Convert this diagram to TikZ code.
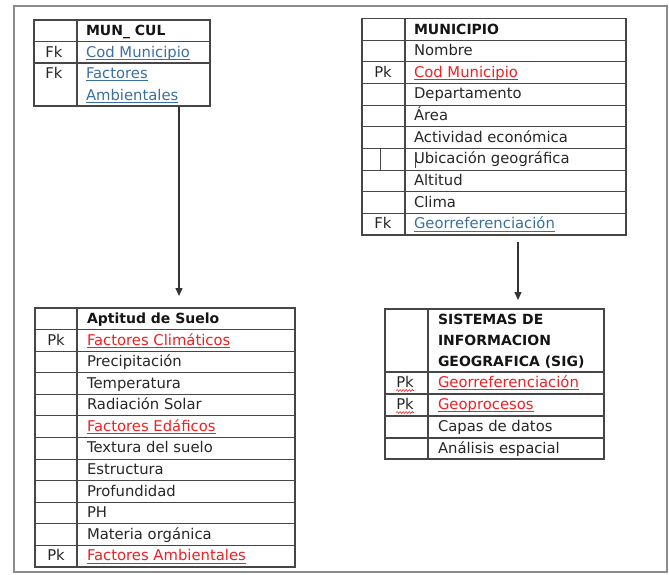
\documentclass[tikz,border=0pt]{standalone}
\usepackage{fontspec}
\setmainfont{DejaVu Sans}
\usetikzlibrary{arrows.meta,decorations.pathmorphing}
\definecolor{txt}{RGB}{38,38,38}
\definecolor{lnc}{RGB}{70,70,70}
\definecolor{frm}{RGB}{140,140,140}
\definecolor{redt}{RGB}{238,32,36}
\definecolor{bluet}{RGB}{58,112,160}
\begin{document}
\begin{tikzpicture}[x=1pt,y=-1pt,
  tblbox/.style={draw=lnc, line width=1.1pt, inner sep=0pt, outer sep=0pt, anchor=north west},
  gridln/.style={draw=lnc, line width=1.1pt},
  cell/.style={anchor=base west, inner sep=0pt, outer sep=0pt, text=txt, font=\fontsize{14.8}{18}\selectfont},
  hdr/.style={cell, text=black!92, font=\fontsize{14}{18}\selectfont\bfseries},
  keyc/.style={anchor=base, inner sep=0pt, outer sep=0pt, text=txt, font=\fontsize{14.8}{18}\selectfont},
  redc/.style={cell, text=redt},
  bluec/.style={cell, text=bluet},
  ulr/.style={draw=redt, line width=0.9pt},
  ulb/.style={draw=bluet, line width=0.9pt},
  squig/.style={draw=redt, line width=0.6pt, decorate, decoration={snake, amplitude=0.9pt, segment length=3pt}},
  arr/.style={-{Triangle[width=7pt,length=8pt]}, line width=1.2pt, draw=black!80}]
\useasboundingbox (0,0) rectangle (669,574);
% outer frame
\draw[frm, line width=1.6pt] (14,6) rectangle (667,572);

% ---------------- MUN_CUL ----------------
\node[tblbox, minimum width=176pt, minimum height=86pt] (mun) at (34,20) {};
\draw[gridln] (77,20) -- (77,106);
\draw[gridln] (34,41.5) -- (210,41.5);
\draw[gridln] (34,63) -- (210,63);
\node[hdr] (munh) at (86,35.5) {MUN\_ CUL};
\node[keyc] (munk1) at (54,57) {Fk};
\node[bluec] (mun1) at (86,57) {Cod Municipio};
\node[keyc] (munk2) at (54,78.5) {Fk};
\node[bluec] (mun2) at (86,78.5) {Factores};
\node[bluec] (mun3) at (86,100) {Ambientales};
\foreach \n in {mun1,mun2,mun3}
  \draw[ulb] ([yshift=-2.3pt]\n.base west) -- ([yshift=-2.3pt]\n.base east);

% ---------------- MUNICIPIO ----------------
\node[tblbox, minimum width=264pt, minimum height=216.5pt] (muni) at (362,18.5) {};
\draw[gridln] (405,18.5) -- (405,235);
\foreach \i in {1,...,9}
  \draw[gridln] (362,{18.5+21.65*\i}) -- (626,{18.5+21.65*\i});
\node[hdr] (munih) at (414,34) {MUNICIPIO};
\foreach \i/\t in {1/Nombre,3/Departamento,4/Área,5/Actividad económica,6/Ubicación geográfica,7/Altitud,8/Clima}
  \node[cell] (muni\i) at (414,{18.5+21.65*\i+15.5}) {\t};
\node[redc] (muni2) at (414,{18.5+21.65*2+15.5}) {Cod Municipio};
\node[keyc] (munik2) at (383,{18.5+21.65*2+15.5}) {Pk};
\node[bluec] (muni9) at (414,{18.5+21.65*9+15.5}) {Georreferenciación};
\node[keyc] (munik9) at (383,{18.5+21.65*9+15.5}) {Fk};
\draw[ulr] ([yshift=-2.3pt]muni2.base west) -- ([yshift=-2.3pt]muni2.base east);
\draw[ulb] ([yshift=-2.3pt]muni9.base west) -- ([yshift=-2.3pt]muni9.base east);
\draw[gridln, line width=0.9pt] (380,{18.5+21.65*6}) -- (380,{18.5+21.65*7});
\draw[draw=lnc, line width=0.6pt] (415,151.5) -- (415,167.5);

% ---------------- Aptitud de Suelo ----------------
\node[tblbox, minimum width=260pt, minimum height=259pt] (apt) at (35,308) {};
\draw[gridln] (77,308) -- (77,567);
\foreach \i in {1,...,11}
  \draw[gridln] (35,{308+21.58*\i}) -- (295,{308+21.58*\i});
\node[hdr] (apth) at (87,{308+15.5}) {Aptitud de Suelo};
\foreach \i/\t in {2/Precipitación,3/Temperatura,4/Radiación Solar,6/Textura del suelo,7/Estructura,8/Profundidad,9/PH,10/Materia orgánica}
  \node[cell] (apt\i) at (87,{308+21.58*\i+15.5}) {\t};
\node[redc] (apt1) at (87,{308+21.58*1+15.5}) {Factores Climáticos};
\node[redc] (apt5) at (87,{308+21.58*5+15.5}) {Factores Edáficos};
\node[redc] (apt11) at (87,{308+21.58*11+15.5}) {Factores Ambientales};
\node[keyc] (aptk1) at (56,{308+21.58*1+15.5}) {Pk};
\node[keyc] (aptk11) at (56,{308+21.58*11+15.5}) {Pk};
\foreach \n in {apt1,apt5,apt11}
  \draw[ulr] ([yshift=-2.3pt]\n.base west) -- ([yshift=-2.3pt]\n.base east);

% ---------------- SIG ----------------
\node[tblbox, minimum width=219pt, minimum height=150pt] (sig) at (385,309) {};
\draw[gridln] (428,309) -- (428,459);
\foreach \y in {372,394,416,438}
  \draw[gridln] (385,\y) -- (604,\y);
\node[hdr] (sigh1) at (438,324.5) {SISTEMAS DE};
\node[hdr] (sigh2) at (438,345.5) {INFORMACION};
\node[hdr] (sigh3) at (438,366.5) {GEOGRAFICA (SIG)};
\node[redc] (sig1) at (438,387.5) {Georreferenciación};
\node[redc] (sig2) at (438,409.5) {Geoprocesos};
\node[cell] (sig3) at (438,431.5) {Capas de datos};
\node[cell] (sig4) at (438,453.5) {Análisis espacial};
\node[keyc] (sigk1) at (405,387.5) {Pk};
\node[keyc] (sigk2) at (405,409.5) {Pk};
\foreach \n in {sig1,sig2}
  \draw[ulr] ([yshift=-2.3pt]\n.base west) -- ([yshift=-2.3pt]\n.base east);
\foreach \n in {sigk1,sigk2}
  \draw[squig] ([yshift=-3pt]\n.base west) -- ([yshift=-3pt]\n.base east);

% ---------------- arrows ----------------
\draw[arr, shorten <=1pt, shorten >=12pt] ([xshift=57pt]mun.south) -- ([xshift=14pt]apt.north);
\draw[arr, shorten <=7pt, shorten >=9pt] ([xshift=24pt]muni.south) -- ([xshift=23.5pt]sig.north);
\end{tikzpicture}
\end{document}
